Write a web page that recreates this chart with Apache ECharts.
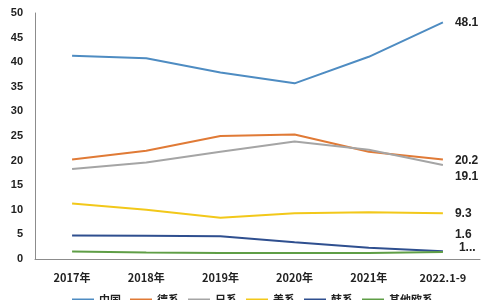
<!DOCTYPE html>
<html><head><meta charset="utf-8">
<script src="https://cdn.jsdelivr.net/npm/echarts@6/dist/echarts.min.js"></script>
<style>html,body{margin:0;padding:0;background:#fff}#c{width:500px;height:300px}</style>
</head><body><div id="c"></div>
<script>
const categories = ['2017年','2018年','2019年','2020年','2021年','2022.1-9'];
const seriesNames = ['中国','德系','日系','美系','韩系','其他欧系'];
const china = [41.3, 40.8, 37.9, 35.7, 41.1, 48.1];
const german = [20.2, 22.0, 25.0, 25.3, 21.8, 20.2];
const japanese = [18.3, 19.6, 21.8, 23.9, 22.2, 19.1];
const american = [11.3, 10.0, 8.4, 9.3, 9.5, 9.3];
const korean = [4.8, 4.75, 4.6, 3.4, 2.3, 1.6];
const otherEu = [1.5, 1.3, 1.2, 1.2, 1.2, 1.4];
const yTicks = {min: 0, max: 50, interval: 5};

const colors = ['#4e8cc2','#e07a36','#a5a5a5','#f2c81a','#2f4f8f','#5f9e46'];
const allData = [china, german, japanese, american, korean, otherEu];
const labelOffsets = [[4,0],[4,1],[4,12],[4,0],[4,-16],[8,-4]];

const chart = echarts.init(document.getElementById('c'));
chart.setOption({
  animation: false,
  color: colors,
  grid: {left: 35, right: 20, top: 13, bottom: 41},
  legend: {
    top: 289, left: 67, itemGap: 9, itemWidth: 22, itemHeight: 2,
    icon: 'rect', width: 430,
    textStyle: {fontSize: 11, fontWeight: 'bold', color: '#222', fontFamily: 'Noto Sans CJK SC'},
    data: seriesNames
  },
  xAxis: {
    type: 'category', data: categories, boundaryGap: true,
    axisLine: {lineStyle: {color: '#8c8c8c', width: 1}},
    axisTick: {show: false},
    axisLabel: {fontSize: 11, fontWeight: 'bold', color: '#222', margin: 13, interval: 0, fontFamily: 'Noto Sans CJK SC'}
  },
  yAxis: {
    type: 'value', min: yTicks.min, max: yTicks.max, interval: yTicks.interval,
    axisLine: {show: true, lineStyle: {color: '#8c8c8c', width: 1}},
    axisTick: {show: false},
    splitLine: {show: false},
    axisLabel: {fontSize: 11, fontWeight: 'bold', color: '#222', margin: 12, fontFamily: 'Liberation Sans'}
  },
  series: seriesNames.map((name, i) => ({
    name: name, type: 'line', symbol: 'none', smooth: false,
    lineStyle: {width: 2},
    data: allData[i],
    endLabel: {
      show: true, distance: 8,
      offset: labelOffsets[i],
      fontSize: 12, fontWeight: 'bold', color: '#222', fontFamily: 'Liberation Sans',
      width: i === 5 ? 20.5 : null,
      overflow: i === 5 ? 'truncate' : 'none',
      formatter: p => i === 5 ? p.value.toFixed(2) : String(p.value)
    }
  }))
});
</script></body></html>
